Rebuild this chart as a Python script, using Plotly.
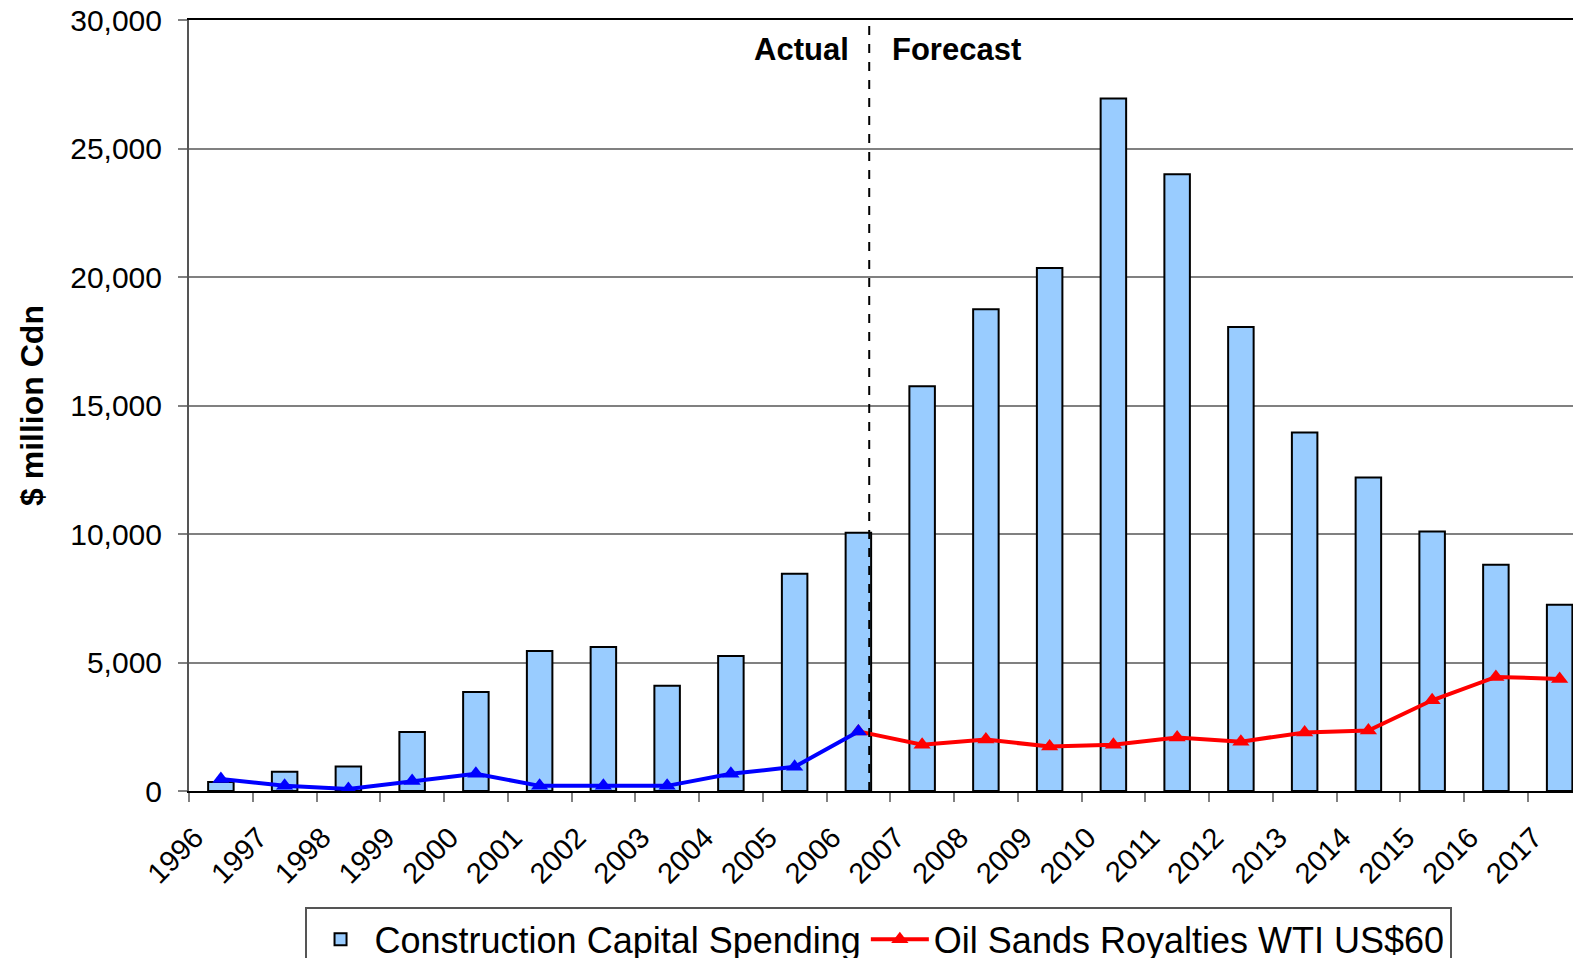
import plotly.graph_objects as go

years = [str(y) for y in range(1996, 2018)]
capital_spending = [350, 750, 950, 2300, 3850, 5450, 5600, 4100, 5250, 8450, 10050,
                    15750, 18750, 20350, 26950, 24000, 18050, 13950, 12200, 10100, 8800, 7250]
royalties_actual_years = years[:11]
royalties_actual = [470, 200, 80, 390, 670, 200, 200, 200, 670, 940, 2320]
royalties_forecast_years = years[10:]
royalties_forecast = [2320, 1800, 2000, 1730, 1800, 2080, 1920, 2280, 2350, 3530, 4440, 4360]

FONT = "Arial, Liberation Sans, sans-serif"

fig = go.Figure()
fig.add_trace(go.Bar(
    x=years, y=capital_spending, name="Construction Capital Spending",
    width=0.4, marker=dict(color="#99CCFF", line=dict(color="black", width=2)),
))
fig.add_trace(go.Scatter(
    x=royalties_forecast_years, y=royalties_forecast, name="Oil Sands Royalties WTI US$60",
    mode="lines+markers", line=dict(color="#FF0000", width=4),
    marker=dict(symbol="triangle-up", size=15, color="#FF0000"),
))
fig.add_trace(go.Scatter(
    x=royalties_actual_years, y=royalties_actual, name="Oil Sands Royalties (actual)",
    mode="lines+markers", line=dict(color="#0000FF", width=4),
    marker=dict(symbol="triangle-up", size=15, color="#0000FF"), showlegend=False,
))

divider = 10.17
fig.add_shape(type="line", xref="x", yref="y", x0=divider, x1=divider, y0=0, y1=30000,
              line=dict(color="black", width=2, dash="dash"))
fig.add_annotation(xref="x", yref="paper", x=divider, y=0.962, xanchor="right", yanchor="middle",
                   xshift=-18, text="<b>Actual</b>", showarrow=False,
                   font=dict(family=FONT, size=31, color="black"))
fig.add_annotation(xref="x", yref="paper", x=divider, y=0.962, xanchor="left", yanchor="middle",
                   xshift=21, text="<b>Forecast</b>", showarrow=False,
                   font=dict(family=FONT, size=31, color="black"))

fig.update_layout(
    width=1573, height=950,
    margin=dict(l=181, r=0, t=12, b=167, autoexpand=False),
    paper_bgcolor="white", plot_bgcolor="white",
    font=dict(family=FONT, color="black"),
    legend=dict(orientation="h", x=0.083, y=-0.151, xanchor="left", yanchor="top",
                bordercolor="#555555", borderwidth=2, bgcolor="white",
                font=dict(family=FONT, size=36), itemwidth=58),
    xaxis=dict(
        type="category", range=[-0.5, 21.335], tickson="boundaries",
        ticks="outside", ticklen=9, tickwidth=2, tickcolor="#808080",
        tickangle=-45, tickfont=dict(family=FONT, size=29, color="black"),
        ticklabelshift=-26, ticklabelstandoff=16, ticklabeloverflow="allow",
        showline=True, linecolor="black", linewidth=2, mirror=True,
        showgrid=False, zeroline=False,
    ),
    yaxis=dict(
        range=[0, 30000], dtick=5000, tickformat=",",
        ticks="outside", ticklen=9, tickwidth=2, tickcolor="#808080",
        tickfont=dict(family=FONT, size=30, color="black"), ticklabelstandoff=10,
        ticklabeloverflow="allow",
        showline=True, linecolor="#555555", linewidth=2,
        showgrid=True, gridcolor="#808080", gridwidth=1.5, zeroline=False,
        title=dict(text="<b>$ million Cdn</b>", font=dict(family=FONT, size=32, color="black"),
                   standoff=17),
    ),
)

fig.write_html("out.html")
